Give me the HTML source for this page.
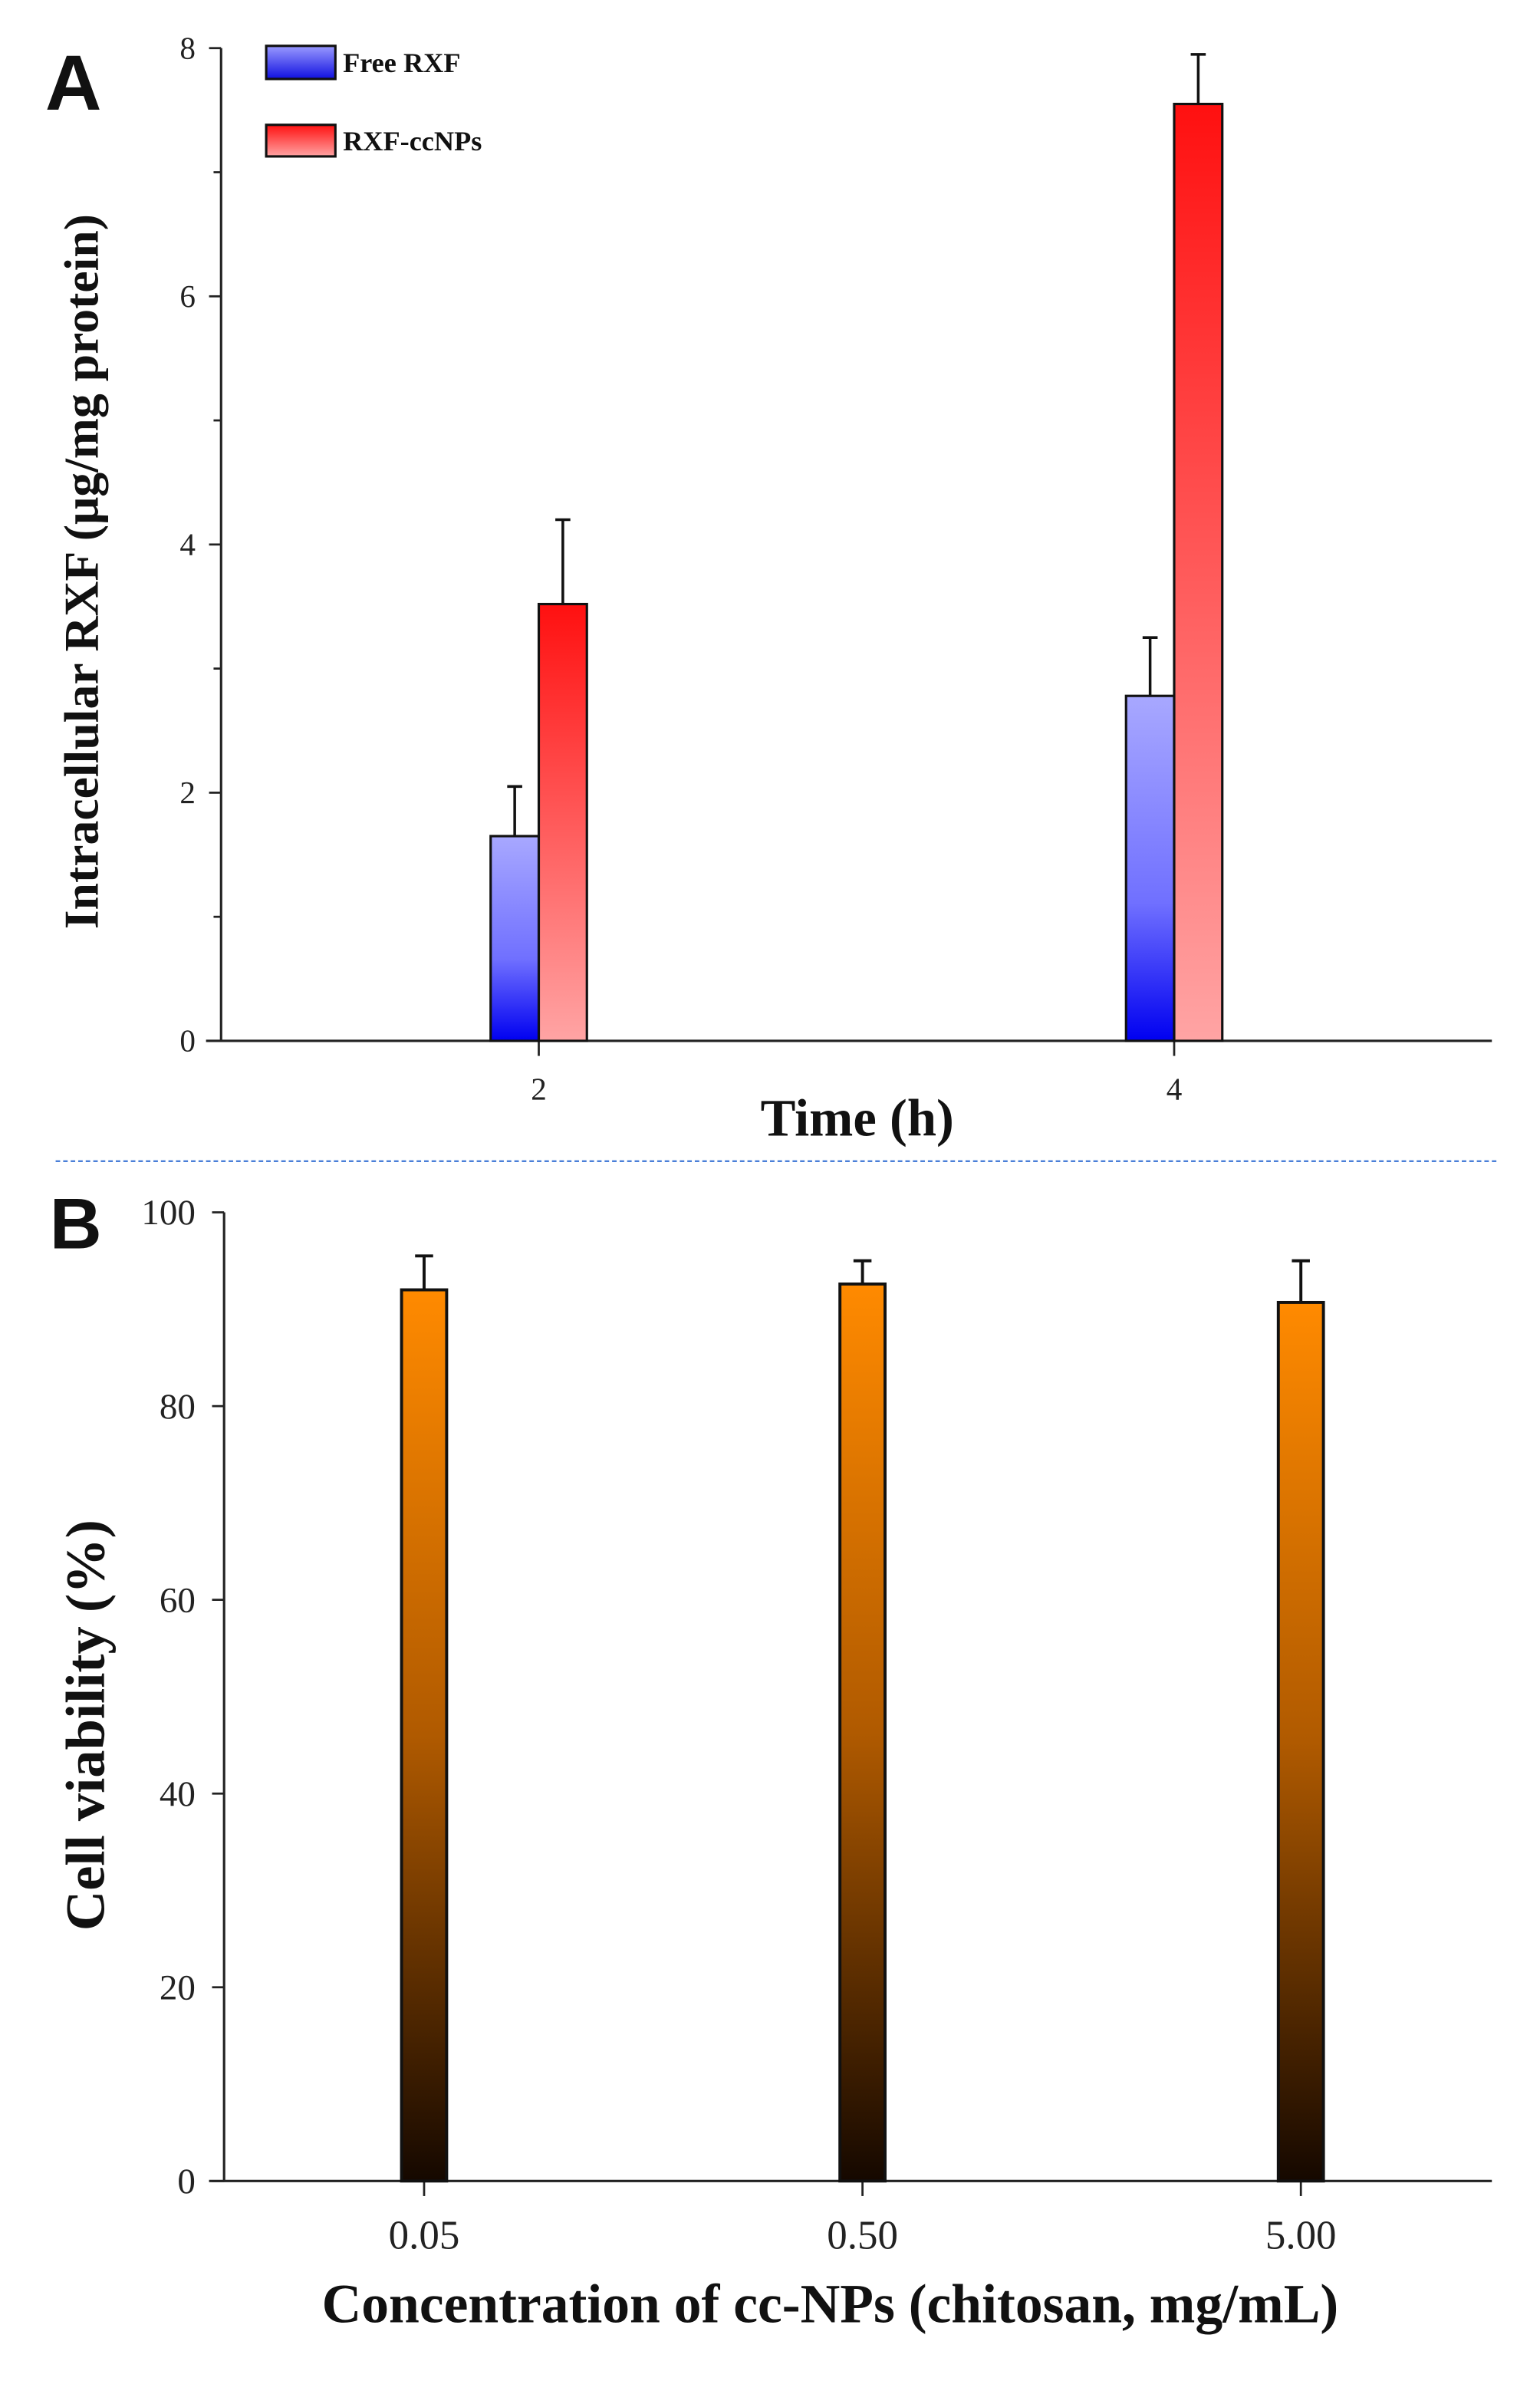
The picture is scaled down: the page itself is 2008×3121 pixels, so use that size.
<!DOCTYPE html>
<html><head><meta charset="utf-8"><style>
html,body{margin:0;padding:0;background:#fff;}
svg{display:block;}
text{font-family:"Liberation Serif",serif;}
</style></head><body>
<svg id="fig" xmlns="http://www.w3.org/2000/svg" width="2008" height="3121" viewBox="0 0 1024 1591.6">
<defs>
<linearGradient id="gBlue" x1="0" y1="0" x2="0" y2="1"><stop offset="0" stop-color="#a8a8ff"/><stop offset="0.6" stop-color="#7070ff"/><stop offset="1" stop-color="#0000f0"/></linearGradient>
<linearGradient id="gRed" x1="0" y1="0" x2="0" y2="1"><stop offset="0" stop-color="#ff1010"/><stop offset="1" stop-color="#ffa4a4"/></linearGradient>
<linearGradient id="gOr" x1="0" y1="0" x2="0" y2="1"><stop offset="0" stop-color="#ff8a00"/><stop offset="0.5" stop-color="#b05a00"/><stop offset="1" stop-color="#150800"/></linearGradient>
<linearGradient id="gLegB" x1="0" y1="0" x2="0" y2="1"><stop offset="0" stop-color="#9a9aff"/><stop offset="1" stop-color="#1010e0"/></linearGradient>
</defs>
<g id="panelA"></g>
<line x1="37" y1="772" x2="996" y2="772" stroke="#4a7fd8" stroke-width="1.2" stroke-dasharray="3,2"/>
<g id="panelB"></g>
</svg>
<script>
const NS="http://www.w3.org/2000/svg";
// Panel A data
const timeCategories=[2,4];
const freeRXF=[1.65,2.78];
const freeRXFErr=[0.40,0.47];
const ccNPs=[3.52,7.55];
const ccNPsErr=[0.68,0.40];
const yTicksA=[0,2,4,6,8];
// Panel B data
const concCategories=["0.05","0.50","5.00"];
const viability=[92.0,92.6,90.7];
const viabilityErr=[3.5,2.4,4.3];
const yTicksB=[0,20,40,60,80,100];

function mk(tag,attrs,parent,txt){const e=document.createElementNS(NS,tag);for(const k in attrs)e.setAttribute(k,attrs[k]);if(txt!==undefined)e.textContent=txt;parent.appendChild(e);return e;}

// ---------- Panel A ----------
const A=document.getElementById('panelA');
const yA=v=>692-(v/8)*660;
const xA=t=>147+(t-1)*211.25;
mk('line',{x1:147,y1:32,x2:147,y2:692,stroke:'#222','stroke-width':1.6},A);
mk('line',{x1:137,y1:692,x2:992,y2:692,stroke:'#222','stroke-width':1.6},A);
for(let v=0;v<=8;v++){
  const big=v%2===0;
  const t=mk('line',{x1:big?139:142,y1:yA(v),x2:147,y2:yA(v),stroke:'#222','stroke-width':1.4},A);
  
}
yTicksA.forEach(v=>{const l=mk('text',{x:130,y:yA(v)+7,'font-size':21,'text-anchor':'end',fill:'#222'},A,String(v));
});
const bw=32;
timeCategories.forEach((t,i)=>{
  const cx=xA(t);
  const tk=mk('line',{x1:cx,y1:692,x2:cx,y2:702,stroke:'#222','stroke-width':1.4},A);
  
  const lb=mk('text',{x:cx,y:731,'font-size':21,'text-anchor':'middle',fill:'#222'},A,String(t));
  
  [[cx-bw/2,freeRXF[i]+freeRXFErr[i],freeRXF[i]],[cx+bw/2,ccNPs[i]+ccNPsErr[i],ccNPs[i]]].forEach(([ex,top,val])=>{
    const e1=mk('line',{x1:ex,y1:yA(val),x2:ex,y2:yA(top),stroke:'#111','stroke-width':1.8},A);
    
    const e2=mk('line',{x1:ex-5,y1:yA(top),x2:ex+5,y2:yA(top),stroke:'#111','stroke-width':1.8},A);
    
  });
  const b1=mk('rect',{x:cx-bw,y:yA(freeRXF[i]),width:bw,height:yA(0)-yA(freeRXF[i]),fill:'url(#gBlue)',stroke:'#111','stroke-width':1.6},A);
  
  
  const b2=mk('rect',{x:cx,y:yA(ccNPs[i]),width:bw,height:yA(0)-yA(ccNPs[i]),fill:'url(#gRed)',stroke:'#111','stroke-width':1.6},A);
  
  
});
mk('text',{x:570,y:755,'font-size':35,'font-weight':'bold','text-anchor':'middle',fill:'#111'},A,'Time (h)');
mk('text',{x:0,y:0,'font-size':32.5,'font-weight':'bold','text-anchor':'middle',fill:'#111',transform:'translate(65,380) rotate(-90)'},A,'Intracellular RXF (μg/mg protein)');
mk('text',{x:30,y:73,'font-size':52,'font-weight':'bold',fill:'#111',style:'font-family:"Liberation Sans",sans-serif'},A,'A');
const lg1=mk('rect',{x:177,y:30.5,width:46,height:22,fill:'url(#gLegB)',stroke:'#111','stroke-width':1.6},A);

mk('text',{x:228,y:48,'font-size':18.5,'font-weight':'bold',fill:'#111'},A,'Free RXF');
const lg2=mk('rect',{x:177,y:83,width:46,height:21,fill:'url(#gRed)',stroke:'#111','stroke-width':1.6},A);

mk('text',{x:228,y:100,'font-size':18.5,'font-weight':'bold',fill:'#111'},A,'RXF-ccNPs');

// ---------- Panel B ----------
const B=document.getElementById('panelB');
const yB=v=>1450-(v/100)*644;
const xB=i=>282+i*291.5;
mk('line',{x1:149,y1:806,x2:149,y2:1450,stroke:'#222','stroke-width':1.6},B);
mk('line',{x1:139,y1:1450,x2:992,y2:1450,stroke:'#222','stroke-width':1.6},B);
yTicksB.forEach(v=>{
  const t=mk('line',{x1:141,y1:yB(v),x2:149,y2:yB(v),stroke:'#222','stroke-width':1.4},B);
  
  const l=mk('text',{x:130,y:yB(v)+8,'font-size':24,'text-anchor':'end',fill:'#222'},B,String(v));
  
});
const bwB=30;
concCategories.forEach((c,i)=>{
  const cx=xB(i);
  const tk=mk('line',{x1:cx,y1:1450,x2:cx,y2:1460,stroke:'#222','stroke-width':1.4},B);
  
  const lb=mk('text',{x:cx,y:1495,'font-size':27,'text-anchor':'middle',fill:'#222'},B,c);
  
  const top=viability[i]+viabilityErr[i];
  const e1=mk('line',{x1:cx,y1:yB(viability[i]),x2:cx,y2:yB(top),stroke:'#111','stroke-width':2},B);
  
  const e2=mk('line',{x1:cx-6,y1:yB(top),x2:cx+6,y2:yB(top),stroke:'#111','stroke-width':2},B);
  
  const b=mk('rect',{x:cx-bwB/2,y:yB(viability[i]),width:bwB,height:yB(0)-yB(viability[i]),fill:'url(#gOr)',stroke:'#111','stroke-width':2},B);
  
  
});
mk('text',{x:552,y:1544,'font-size':36.5,'font-weight':'bold','text-anchor':'middle',fill:'#111'},B,'Concentration of cc-NPs (chitosan, mg/mL)');
mk('text',{x:0,y:0,'font-size':37,'font-weight':'bold','text-anchor':'middle',fill:'#111',transform:'translate(69,1147) rotate(-90)'},B,'Cell viability (%)');
mk('text',{x:33,y:830,'font-size':48,'font-weight':'bold',fill:'#111',style:'font-family:"Liberation Sans",sans-serif'},B,'B');
</script>
</body></html>
